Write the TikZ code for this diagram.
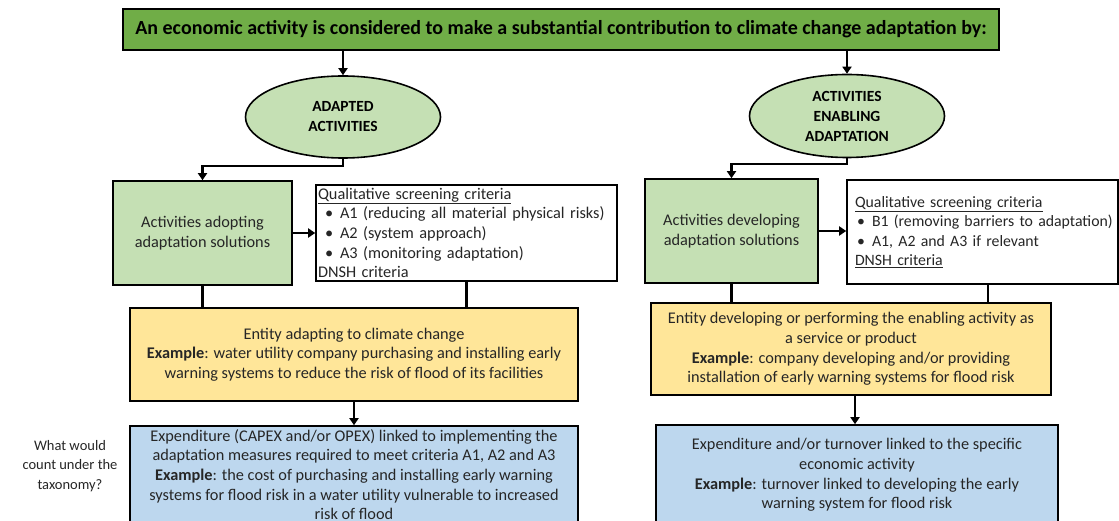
\documentclass[tikz,border=0pt]{standalone}
\usepackage{fontspec}
\setmainfont{Carlito}
\usetikzlibrary{arrows.meta,shapes.geometric,calc}
\definecolor{titlegreen}{HTML}{70AD47}
\definecolor{lightgreen}{HTML}{C5E0B4}
\definecolor{lightyellow}{HTML}{FFE699}
\definecolor{lightblue}{HTML}{BDD7EE}
\definecolor{txt}{HTML}{262626}
\newcommand\bodyfont{\fontsize{16.3}{19.6}\selectfont}
\newcommand\bulitem{\hspace*{7pt}\makebox[15pt][l]{•}}
\newcommand\bulitemB{\hspace*{2pt}\makebox[15pt][l]{•}}
\tikzset{
  box/.style={draw=black, line width=1.6pt, inner sep=0pt, text=txt, font=\bodyfont},
  arr/.style={line width=2.4pt, -{Triangle[width=9pt,length=7pt]}},
  conn/.style={line width=2.4pt},
}
\begin{document}
\begin{tikzpicture}[x=1pt,y=-1pt]
\useasboundingbox (0,0) rectangle (1119,521);
% title
\node[box, fill=titlegreen, line width=2pt, minimum width=876pt, minimum height=41pt, text=black,
  font=\fontsize{20}{22}\selectfont\bfseries] (title) at (561,29.5)
  {An economic activity is considered to make a substantial contribution to climate change adaptation by:};
% ellipses
\node[box, ellipse, fill=lightgreen, minimum width=195pt, minimum height=82pt, text=black,
  align=center, font=\fontsize{15.5}{20}\selectfont\bfseries] (ellA) at (343,117)
  {ADAPTED\\ACTIVITIES};
\node[box, ellipse, fill=lightgreen, minimum width=195pt, minimum height=83pt, text=black,
  align=center, font=\fontsize{15.5}{20}\selectfont\bfseries] (ellB) at (847,116)
  {ACTIVITIES\\ENABLING\\ADAPTATION};
% left column
\node[box, fill=lightgreen, minimum width=179pt, minimum height=104pt, align=center] (gA) at (202.5,233)
  {Activities adopting\\adaptation solutions};
\node[box, fill=white, minimum width=301pt, minimum height=96pt, text width=297pt, align=left] (wA) at (466.5,233)
  {\mbox{\underline{Qualitative screening criteria}}\\
   \mbox{\bulitem A1 (reducing all material physical risks)}\\
   \mbox{\bulitem A2 (system approach)}\\
   \mbox{\bulitem A3 (monitoring adaptation)}\\
   \mbox{DNSH criteria}};
\node[box, fill=lightyellow, minimum width=448pt, minimum height=93pt, align=center] (yA) at (354,354.5)
  {Entity adapting to climate change\\
   \textbf{Example}: water utility company purchasing and installing early\\
   warning systems to reduce the risk of flood of its facilities};
\node[box, fill=lightblue, minimum width=448pt, minimum height=97pt, align=center] (bA) at (354,474.5)
  {Expenditure (CAPEX and/or OPEX) linked to implementing the\\
   adaptation measures required to meet criteria A1, A2 and A3\\
   \textbf{Example}: the cost of purchasing and installing early warning\\
   systems for flood risk in a water utility vulnerable to increased\\
   risk of flood};
% right column
\node[box, fill=lightgreen, minimum width=173pt, minimum height=104pt, align=center] (gB) at (731.5,231)
  {Activities developing\\adaptation solutions};
\node[box, fill=white, minimum width=271pt, minimum height=104pt, text width=255pt, align=left,
  font=\fontsize{15.8}{19.6}\selectfont] (wB) at (982.5,232)
  {\mbox{\underline{Qualitative screening criteria}}\\
   \mbox{\bulitemB B1 (removing barriers to adaptation)}\\
   \mbox{\bulitemB A1, A2 and A3 if relevant}\\
   \mbox{\underline{DNSH criteria}}};
\node[box, fill=lightyellow, minimum width=400pt, minimum height=92pt, align=center] (yB) at (851,349)
  {Entity developing or performing the enabling activity as\\
   a service or product\\
   \textbf{Example}: company developing and/or providing\\
   installation of early warning systems for flood risk};
\node[box, fill=lightblue, minimum width=402pt, minimum height=100pt, align=center] (bB) at (857,475)
  {Expenditure and/or turnover linked to the specific\\
   economic activity\\
   \textbf{Example}: turnover linked to developing the early\\
   warning system for flood risk};
% side question
\node[text=txt, font=\fontsize{14.5}{19.5}\selectfont, align=center, inner sep=0pt] (question) at (70,466)
  {What would\\count under the\\taxonomy?};
% helper coordinates
\coordinate (wBs) at ($(wB.south)+(5.5,0)$);
\coordinate (yBs) at ($(yB.south)+(4,0)$);
% connectors
\draw[arr] (title.south -| ellA.north) -- (ellA.north);
\draw[arr] (title.south -| ellB.north) -- (ellB.north);
\draw[arr] (ellA.south) -- ++(0,7) -| (gA.north);
\draw[arr] (ellB.south) -- ++(0,6) -| (gB.north);
\draw[arr] (gA.east) -- (gA.east -| wA.west);
\draw[arr] (gB.east) -- (gB.east -| wB.west);
\draw[conn] (gA.south) -- (gA.south |- yA.north);
\draw[conn] (wA.south) -- (wA.south |- yA.north);
\draw[conn] (gB.south) -- (gB.south |- yB.north);
\draw[conn] (wBs) -- (wBs |- yB.north);
\draw[arr] (yA.south) -- (yA.south |- bA.north);
\draw[arr] (yBs) -- (yBs |- bB.north);
\end{tikzpicture}
\end{document}
